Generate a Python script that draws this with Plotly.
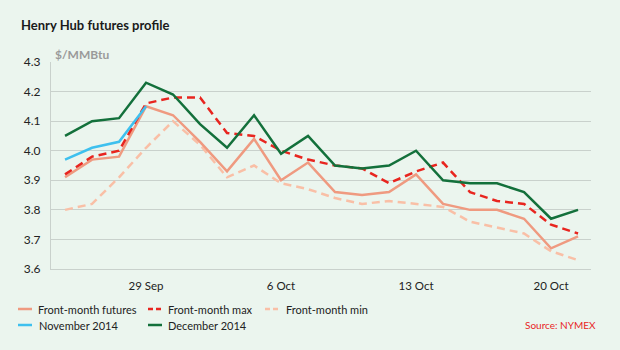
import plotly.graph_objects as go

dates = ["24 Sep", "25 Sep", "26 Sep", "29 Sep", "30 Sep", "1 Oct", "2 Oct", "3 Oct",
         "6 Oct", "7 Oct", "8 Oct", "9 Oct", "10 Oct", "13 Oct", "14 Oct", "15 Oct",
         "16 Oct", "17 Oct", "20 Oct", "21 Oct"]
tick_labels = ["29 Sep", "6 Oct", "13 Oct", "20 Oct"]

front_month = [3.91, 3.97, 3.98, 4.15, 4.12, 4.03, 3.93, 4.04, 3.90, 3.96,
               3.86, 3.85, 3.86, 3.92, 3.82, 3.80, 3.80, 3.77, 3.67, 3.71]
front_max = [3.92, 3.98, 4.00, 4.16, 4.18, 4.18, 4.06, 4.05, 4.00, 3.97,
             3.95, 3.94, 3.89, 3.93, 3.96, 3.86, 3.83, 3.82, 3.75, 3.72]
front_min = [3.80, 3.82, 3.91, 4.01, 4.10, 4.02, 3.91, 3.95, 3.89, 3.87,
             3.84, 3.82, 3.83, 3.82, 3.81, 3.76, 3.74, 3.72, 3.66, 3.63]
nov_2014 = [3.97, 4.01, 4.03, 4.15] + [None] * 16
dec_2014 = [4.05, 4.10, 4.11, 4.23, 4.19, 4.09, 4.01, 4.12, 3.99, 4.05,
            3.95, 3.94, 3.95, 4.00, 3.90, 3.89, 3.89, 3.86, 3.77, 3.80]

BG = "#ebf5ee"
GRID = "#c9d1cc"
FONT = "Lato"
W, H = 620, 350
L, R, T, B = 51, 29, 62, 81
PW, PH = W - L - R, H - T - B


def px_x(px):
    return (px - L) / PW


def px_y(py):
    return (H - B - py) / PH


series = [
    # name, values, color, dash, legend dash, legend line x0 (px), legend text x (px), legend y (px)
    ("Front-month min", front_min, "#f9bfa6", "8px,5px", "5px,3px", 265, 284, 309),
    ("Front-month futures", front_month, "#ef9a80", "solid", "solid", 18, 36, 309),
    ("Front-month max", front_max, "#e8251f", "8px,5px", "5px,3px", 148, 166, 309),
    ("November 2014", nov_2014, "#3ec0ee", "solid", "solid", 18, 37, 325),
    ("December 2014", dec_2014, "#13703b", "solid", "solid", 148, 166, 325),
]

fig = go.Figure()
for name, vals, color, dash, ldash, lx, tx, ty in series:
    fig.add_trace(go.Scatter(
        x=dates, y=vals, name=name, mode="lines",
        line=dict(color=color, width=2.5, dash=dash),
        connectgaps=False, hoverinfo="skip", showlegend=False,
    ))
    # legend key
    fig.add_shape(type="line", xref="paper", yref="paper",
                  x0=px_x(lx), x1=px_x(lx + 14), y0=px_y(ty), y1=px_y(ty),
                  line=dict(color=color, width=2.5, dash=ldash))
    fig.add_annotation(text=name, xref="paper", yref="paper",
                       x=px_x(tx), y=px_y(ty), xanchor="left", yanchor="middle",
                       showarrow=False,
                       font=dict(family=FONT, size=11, color="#222222"))

fig.update_layout(
    width=W, height=H,
    margin=dict(l=L, r=R, t=T, b=B, autoexpand=False),
    paper_bgcolor=BG, plot_bgcolor=BG,
    font=dict(family=FONT, size=12, color="#222222"),
    title=dict(text="<b>Henry Hub futures profile</b>",
               x=21 / W, xanchor="left", xref="container",
               y=1 - 25 / H, yanchor="middle", yref="container",
               font=dict(family=FONT, size=13, color="#1a1a1a")),
    showlegend=False,
)

fig.update_xaxes(
    type="category", categoryorder="array", categoryarray=dates,
    range=[-0.52, 19.48],
    tickmode="array", tickvals=tick_labels, ticktext=tick_labels,
    showgrid=False, zeroline=False,
    showline=True, linecolor=GRID, linewidth=1,
    ticks="", ticklabelstandoff=6,
    tickfont=dict(family=FONT, size=11.5, color="#222222"),
)
fig.update_yaxes(
    range=[3.6, 4.3], dtick=0.1, tick0=3.6, tickformat=".1f",
    showgrid=True, gridcolor=GRID, gridwidth=1,
    zeroline=False, showline=True, linecolor=GRID, linewidth=1,
    ticks="", ticklabelstandoff=7,
    tickfont=dict(family=FONT, size=12, color="#222222"),
)

fig.add_annotation(
    text="<b>$/MMBtu</b>", xref="paper", yref="paper",
    x=px_x(53), y=px_y(54),
    xanchor="left", yanchor="middle", showarrow=False,
    font=dict(family=FONT, size=12, color="#9a9a9a"),
)
fig.add_annotation(
    text="Source: NYMEX", xref="paper", yref="paper",
    x=px_x(598), y=px_y(325),
    xanchor="right", yanchor="middle", showarrow=False,
    font=dict(family=FONT, size=10, color="#e8251f"),
)

fig.write_html("out.html")
